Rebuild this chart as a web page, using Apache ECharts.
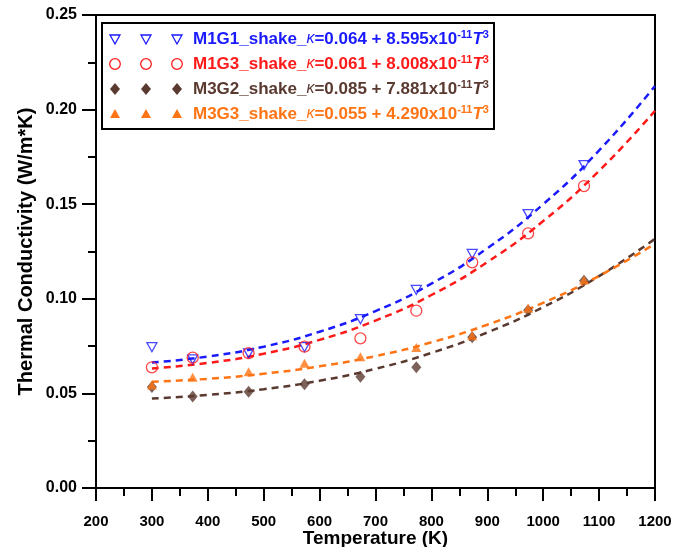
<!DOCTYPE html>
<html><head><meta charset="utf-8">
<script src="https://cdn.jsdelivr.net/npm/echarts@6/dist/echarts.min.js"></script>
<style>html,body{margin:0;padding:0;background:#fff}#c{width:686px;height:547px}</style>
</head><body><div id="c"></div>
<script>
// ---- data ----
const temps = [300, 373, 473, 573, 673, 773, 873, 973, 1073];
const m1g1 = [0.0744, 0.0680, 0.0712, 0.0744, 0.0892, 0.1047, 0.1237, 0.1448, 0.1707];
const m1g3 = [0.0638, 0.0689, 0.0713, 0.0747, 0.0791, 0.0937, 0.1193, 0.1346, 0.1596];
const m3g2 = [0.0534, 0.0483, 0.0509, 0.0548, 0.0588, 0.0638, 0.0797, 0.0940, 0.1095];
const m3g3 = [0.0544, 0.0585, 0.0615, 0.0659, 0.0694, 0.0742, 0.0805, 0.0950, 0.1099];
// fitted dashed curves, read at these temperatures
const fitT = [300, 400, 500, 600, 700, 800, 900, 1000, 1100, 1200];
const fitM1G1 = [0.0663, 0.0695, 0.0747, 0.0826, 0.0935, 0.1080, 0.1267, 0.1500, 0.1784, 0.2125];
const fitM1G3 = [0.0632, 0.0661, 0.0710, 0.0783, 0.0885, 0.1020, 0.1194, 0.1411, 0.1676, 0.1994];
const fitM3G2 = [0.0473, 0.0492, 0.0522, 0.0567, 0.0630, 0.0714, 0.0822, 0.0956, 0.1120, 0.1317];
const fitM3G3 = [0.0562, 0.0577, 0.0604, 0.0643, 0.0697, 0.0770, 0.0863, 0.0979, 0.1121, 0.1291];
const names = ['M1G1_shake_', 'M1G3_shake_', 'M3G2_shake_', 'M3G3_shake_'];
const consts = ['0.064', '0.061', '0.085', '0.055'];
const coefs = ['8.595', '8.008', '7.881', '4.290'];
const xTicks = ['200', '300', '400', '500', '600', '700', '800', '900', '1000', '1100', '1200'];
const yTicks = ['0.00', '0.05', '0.10', '0.15', '0.20', '0.25'];

const colors = ['#1a1aff', '#ff1a1a', '#5a3a30', '#ff7414'];
const FONT = '"Liberation Sans", Arial, sans-serif';

const chart = echarts.init(document.getElementById('c'), null, {renderer: 'canvas'});
const pair = (xs, ys) => xs.map((x, i) => [x, ys[i]]);
const fits = [fitM1G1, fitM1G3, fitM3G2, fitM3G3];
const pts = [m1g1, m1g3, m3g2, m3g3];
const triDown = 'path://M0,0 L10,0 L5,9 Z';

const symDefs = [
  {symbol: triDown, size: [10, 9], hollow: true},
  {symbol: 'circle', size: 11, hollow: true},
  {symbol: 'diamond', size: [10, 12], hollow: false},
  {symbol: 'triangle', size: [10, 9], hollow: false}
];

const series = [];
fits.forEach((f, i) => {
  series.push({type: 'line', data: pair(fitT, f), smooth: true, showSymbol: false, z: 2,
    lineStyle: {color: colors[i], width: 2.5, type: [7, 5]}, silent: true});
});
pts.forEach((p, i) => {
  const d = symDefs[i];
  series.push({type: 'scatter', data: pair(temps, p), symbol: d.symbol, symbolSize: d.size, z: 3,
    itemStyle: d.hollow ? {color: 'rgba(0,0,0,0)', borderColor: colors[i], borderWidth: 1.3}
                        : {color: colors[i]}});
});

// legend built with graphic elements
const legendGraphics = [];
legendGraphics.push({type: 'rect', left: 101, top: 22, shape: {width: 392, height: 106},
  style: {fill: '#fff', stroke: '#000', lineWidth: 2}, z: 10});
const rowY = [39, 64, 89, 114];
const markX = [115, 146, 177];
rowY.forEach((y, i) => {
  markX.forEach(x => {
    let el;
    if (i === 0) el = {type: 'polygon', shape: {points: [[x - 5, y - 4], [x + 5, y - 4], [x, y + 5]]}, style: {fill: 'none', stroke: colors[0], lineWidth: 1.3}};
    else if (i === 1) el = {type: 'circle', shape: {cx: x, cy: y, r: 5.3}, style: {fill: 'none', stroke: colors[1], lineWidth: 1.3}};
    else if (i === 2) el = {type: 'polygon', shape: {points: [[x, y - 6], [x + 5, y], [x, y + 6], [x - 5, y]]}, style: {fill: colors[2]}};
    else el = {type: 'polygon', shape: {points: [[x, y - 5], [x + 5, y + 4], [x - 5, y + 4]]}, style: {fill: colors[3]}};
    el.z = 11;
    legendGraphics.push(el);
  });
  const c = colors[i];
  legendGraphics.push({type: 'text', left: 193, top: y - 10, z: 11,
    style: {
      text: '{a|' + names[i] + '}{k|κ}{a|=' + consts[i] + ' + ' + coefs[i] + 'x10}{s|-11}{t|T}{s|3}',
      rich: {
        a: {fontFamily: FONT, fontWeight: 'bold', fontSize: 17, fill: c, lineHeight: 20},
        k: {fontFamily: FONT, fontStyle: 'italic', fontSize: 16, fill: c, lineHeight: 20},
        t: {fontFamily: FONT, fontStyle: 'italic', fontWeight: 'bold', fontSize: 17, fill: c, lineHeight: 20},
        s: {fontFamily: FONT, fontWeight: 'bold', fontSize: 11, fill: c, lineHeight: 12, verticalAlign: 'top'}
      }
    }});
});

chart.setOption({
  animation: false,
  backgroundColor: '#fff',
  grid: {left: 96, right: 31, top: 15, bottom: 59, containLabel: false, outerBoundsMode: 'none',
    show: true, borderColor: '#000', borderWidth: 2, backgroundColor: 'transparent'},
  xAxis: {type: 'value', min: 200, max: 1200, interval: 100,
    name: 'Temperature (K)', nameLocation: 'middle', nameGap: 41, nameMoveOverlap: false,
    nameTextStyle: {fontFamily: FONT, fontWeight: 'bold', fontSize: 19, color: '#000'},
    axisLine: {show: true, lineStyle: {color: '#000', width: 2}},
    axisTick: {show: true, inside: false, length: 13, lineStyle: {color: '#000', width: 2}},
    minorTick: {show: true, splitNumber: 2, length: 8, lineStyle: {color: '#000', width: 2}},
    axisLabel: {margin: 26, fontFamily: FONT, fontWeight: 'bold', fontSize: 15, color: '#000',
      formatter: v => xTicks[Math.round((v - 200) / 100)]},
    splitLine: {show: false}},
  yAxis: {type: 'value', min: 0, max: 0.25, interval: 0.05,
    name: 'Thermal Conductivity (W/m*K)', nameLocation: 'middle', nameGap: 60, nameMoveOverlap: false,
    nameTextStyle: {fontFamily: FONT, fontWeight: 'bold', fontSize: 20, color: '#000'},
    axisLine: {show: true, lineStyle: {color: '#000', width: 2}},
    axisTick: {show: true, inside: false, length: 14, lineStyle: {color: '#000', width: 2}},
    minorTick: {show: true, splitNumber: 2, length: 8, lineStyle: {color: '#000', width: 2}},
    axisLabel: {margin: 19, fontFamily: FONT, fontWeight: 'bold', fontSize: 16, color: '#000',
      formatter: v => yTicks[Math.round(v / 0.05)]},
    splitLine: {show: false}},
  series: series,
  graphic: legendGraphics
});
</script></body></html>
